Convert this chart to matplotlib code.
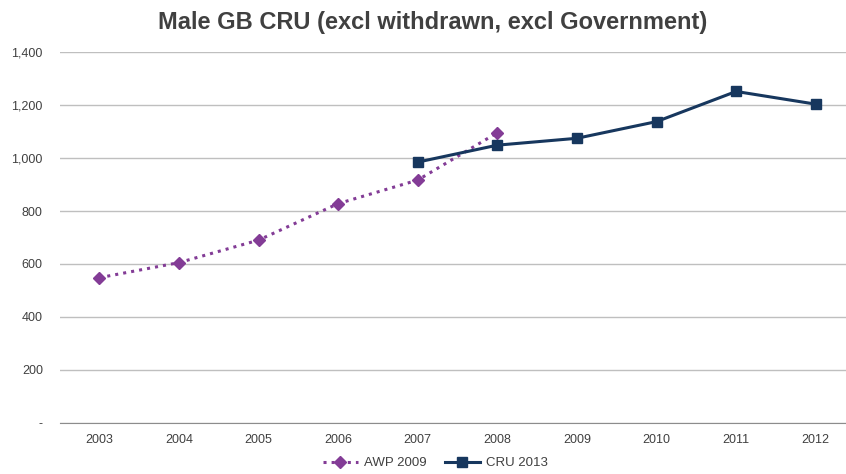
import matplotlib.pyplot as plt
from matplotlib.ticker import FuncFormatter

plt.rcParams['font.family'] = ['Liberation Sans', 'DejaVu Sans']

years = ['2003', '2004', '2005', '2006', '2007', '2008', '2009', '2010', '2011', '2012']
awp_2009 = [548, 605, 690, 828, 917, 1096]
cru_2013 = [985, 1049, 1075, 1138, 1252, 1204]

W, H = 846, 474
fig = plt.figure(figsize=(W / 100, H / 100), dpi=100)
# plot area runs a bit past the right edge, as in the cropped original
ax = fig.add_axes([59.5 / W, 1 - 422.7 / H, 796 / W, (422.7 - 52.3) / H])

x = list(range(len(years)))
ax.plot(x[:6], awp_2009, color='#833C96', linestyle=':', linewidth=2.2,
        marker='D', markersize=6, label='AWP 2009')
ax.plot(x[4:], cru_2013, color='#17375E', linestyle='-', linewidth=2.2,
        marker='s', markersize=7, label='CRU 2013')

ax.set_xlim(-0.5, len(years) - 0.5)
ax.set_ylim(0, 1400)
ax.set_xticks(x)
ax.set_xticklabels(years)
ax.set_yticks(range(0, 1401, 200))
ax.yaxis.set_major_formatter(FuncFormatter(lambda v, p: '-' if v == 0 else f'{int(v):,}'))

ax.grid(axis='y', color='#BFBFBF', linewidth=1)
ax.set_axisbelow(True)
for s in ['top', 'right', 'left']:
    ax.spines[s].set_visible(False)
ax.spines['bottom'].set_color('#8C8C8C')
ax.tick_params(axis='both', length=0, labelsize=9, colors='#404040', pad=8)
ax.tick_params(axis='y', pad=12)

fig.text(433 / W, 1 - 23 / H, 'Male GB CRU (excl withdrawn, excl Government)',
         ha='center', va='center', fontsize=17, fontweight='bold', color='#404040')

fig.legend(loc='center', bbox_to_anchor=(435 / W, 1 - 463 / H), ncol=2, frameon=False,
           fontsize=9.5, handlelength=2.7, columnspacing=1.4, handletextpad=0.4,
           labelcolor='#404040')

fig.savefig('out.png', dpi=100)
